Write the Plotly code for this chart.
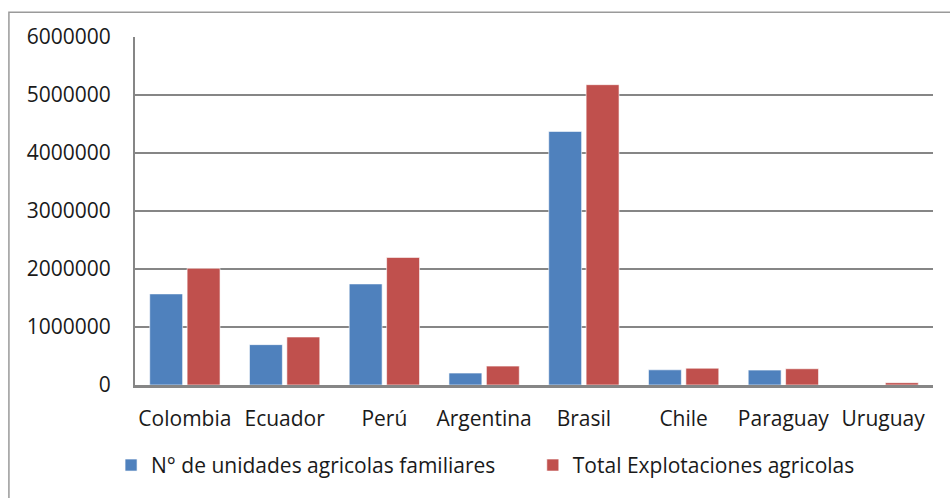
import plotly.graph_objects as go

paises = ["Colombia", "Ecuador", "Perú", "Argentina", "Brasil", "Chile", "Paraguay", "Uruguay"]
unidades_familiares = [1571000, 696000, 1743000, 206000, 4372000, 262000, 257000, 0]
total_explotaciones = [2012000, 828000, 2200000, 326000, 5178000, 290000, 280000, 40000]
y_ticks = [0, 1000000, 2000000, 3000000, 4000000, 5000000, 6000000]

AZUL = "#4F81BD"
ROJO = "#C0504D"
GRIS = "#868686"
TEXTO = "#1a1a1a"
FUENTE = "Open Sans"

fig = go.Figure()
fig.add_trace(go.Bar(
    x=paises, y=unidades_familiares,
    name="N° de unidades agricolas familiares",
    marker=dict(color=AZUL, line=dict(color="rgba(255,255,255,0.6)", width=1)),
    legend="legend",
))
fig.add_trace(go.Bar(
    x=paises, y=total_explotaciones,
    name="Total Explotaciones agricolas",
    marker=dict(color=ROJO, line=dict(color="rgba(255,255,255,0.6)", width=1)),
    legend="legend2",
))

leyenda = dict(
    orientation="h", yanchor="middle", y=-0.231, xanchor="left",
    font=dict(family=FUENTE, size=21, color=TEXTO),
    itemclick=False, itemdoubleclick=False, bgcolor="rgba(0,0,0,0)",
)

fig.update_layout(
    width=950, height=498,
    margin=dict(l=135, r=17, t=37, b=111),
    paper_bgcolor="white", plot_bgcolor="white",
    barmode="group", bargap=0.25, bargroupgap=0.12,
    font=dict(family=FUENTE, size=21, color=TEXTO),
    showlegend=True,
    legend=dict(leyenda, x=-0.03),
    legend2=dict(leyenda, x=0.4985),
    shapes=[dict(
        type="rect", xref="paper", yref="paper",
        x0=-0.158, y0=-0.4, x1=1.06, y1=1.0714,
        line=dict(color="#9a9a9a", width=1.5), fillcolor="rgba(0,0,0,0)",
        layer="below",
    )],
)

fig.update_xaxes(
    showline=True, linecolor=GRIS, linewidth=2.5,
    showgrid=False, ticks="", ticklabelstandoff=13,
    tickfont=dict(family=FUENTE, size=21, color=TEXTO),
)
fig.update_yaxes(
    range=[0, 6000000], tickvals=y_ticks, ticktext=[str(v) for v in y_ticks],
    showline=True, linecolor=GRIS, linewidth=2,
    showgrid=True, gridcolor=GRIS, gridwidth=1.6,
    zeroline=False, ticks="", ticklabelstandoff=18,
    tickfont=dict(family=FUENTE, size=21, color=TEXTO),
)

fig.write_html("out.html")
